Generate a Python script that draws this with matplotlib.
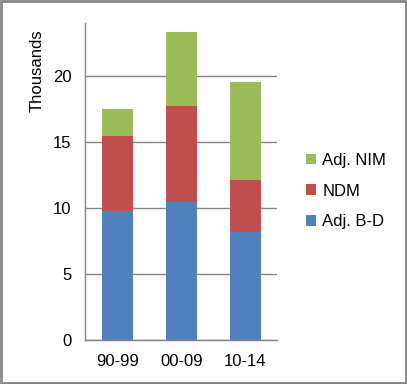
import matplotlib.pyplot as plt
from matplotlib.patches import Rectangle

plt.rcParams['font.family'] = ['Liberation Sans', 'DejaVu Sans']

# Данные, в тысячах
periods = ['90-99', '00-09', '10-14']
adj_bd = [9.77, 10.48, 8.2]
ndm = [5.68, 7.25, 3.92]
adj_nim = [2.05, 5.6, 7.43]

series_names = ['Adj. B-D', 'NDM', 'Adj. NIM']
colors = ['#4F81BD', '#C0504D', '#9BBB59']

fig = plt.figure(figsize=(4.07, 3.84), dpi=100)
ax = fig.add_axes([0.2097, 0.1146, 0.4717, 0.8247])

x = range(len(periods))
bottom = [0.0] * len(periods)
for vals, name, c in zip([adj_bd, ndm, adj_nim], series_names, colors):
    ax.bar(x, vals, width=0.49, bottom=bottom, color=c, label=name, zorder=2)
    bottom = [bt + v for bt, v in zip(bottom, vals)]

ax.set_xlim(-0.5, 2.5)
ax.set_ylim(0, 24)
ax.set_yticks([0, 5, 10, 15, 20])
ax.set_xticks(list(x))
ax.set_xticklabels(periods)

ax.grid(axis='y', color='#868686', linewidth=1, zorder=0)
for s in ['top', 'right']:
    ax.spines[s].set_visible(False)
for s in ['left', 'bottom']:
    ax.spines[s].set_color('#868686')
    ax.spines[s].set_linewidth(1)
ax.tick_params(length=0, labelsize=12, colors='black')
ax.tick_params(axis='y', pad=10)
ax.tick_params(axis='x', pad=10)

fig.text(0.091, 0.815, 'Thousands', rotation=90, ha='center', va='center', fontsize=12)

handles, labels = ax.get_legend_handles_labels()
ax.legend(handles[::-1], labels[::-1], loc='center left', bbox_to_anchor=(1.07, 0.47),
          frameon=False, fontsize=12, handlelength=0.6, handleheight=0.6,
          handletextpad=0.4, labelspacing=0.95)

# Серая рамка вокруг картинки
fig.patches.append(Rectangle((0.002, 0.003), 0.995, 0.994, transform=fig.transFigure,
                             fill=False, edgecolor='#868686', linewidth=2))

fig.savefig('out.png', dpi=100)
